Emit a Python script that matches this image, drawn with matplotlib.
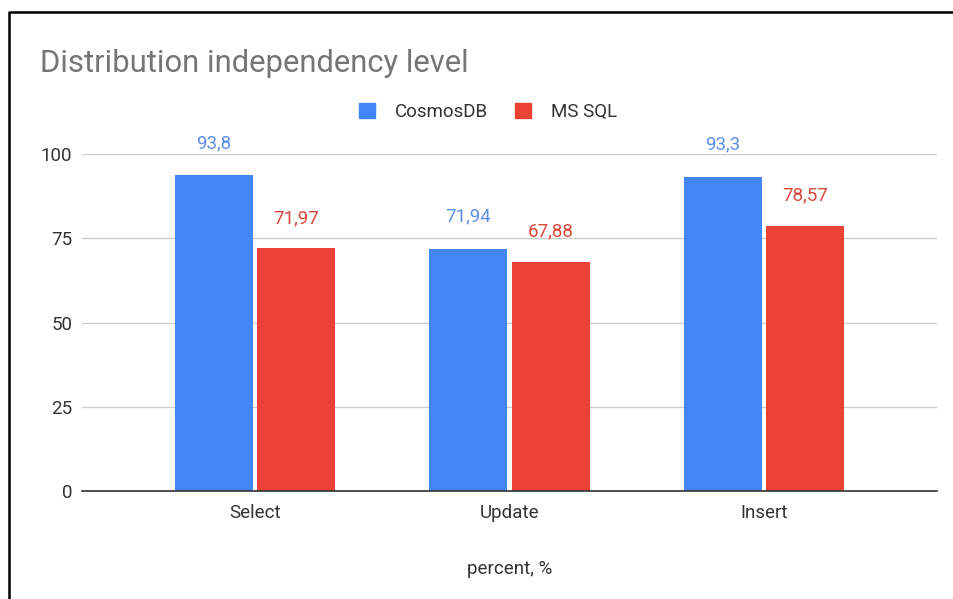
import numpy as np
import matplotlib
matplotlib.use('Agg')
import matplotlib.pyplot as plt
from matplotlib.lines import Line2D
from matplotlib.patches import Patch

plt.rcParams['font.family'] = ['Roboto', 'DejaVu Sans']

# data
categories = ['Select', 'Update', 'Insert']
cosmos = [93.8, 71.94, 93.3]
mssql = [71.97, 67.88, 78.57]
cosmos_labels = ['93,8', '71,94', '93,3']
mssql_labels = ['71,97', '67,88', '78,57']
yticks = [0, 25, 50, 75, 100]

blue = '#4285f4'
red = '#ea4335'

W, H = 954, 599
fig = plt.figure(figsize=(W / 100, H / 100), dpi=100)
ax = fig.add_axes([82 / W, 1 - 491 / H, (937 - 82) / W, (491 - 154) / H])

x = np.arange(len(categories))
bw = 0.306
gap = 0.009
ax.bar(x - bw / 2 - gap, cosmos, width=bw, color=blue, zorder=3)
ax.bar(x + bw / 2 + gap, mssql, width=bw, color=red, zorder=3)

# value labels above the bars
for i in range(len(categories)):
    ax.annotate(cosmos_labels[i], (x[i] - bw / 2 - gap, cosmos[i]), xytext=(0, 23),
                textcoords='offset points', ha='center', va='center',
                fontsize=13.5, color='#5f8ee8')
    ax.annotate(mssql_labels[i], (x[i] + bw / 2 + gap, mssql[i]), xytext=(0, 22),
                textcoords='offset points', ha='center', va='center',
                fontsize=13.5, color='#d9493c')

ax.set_xlim(-0.68, 2.68)
ax.set_ylim(0, 100)
ax.set_yticks(yticks)
ax.set_xticks(x)
ax.set_xticklabels(categories)
ax.tick_params(axis='both', length=0, labelsize=13.5, labelcolor='#333333')
ax.tick_params(axis='y', pad=7)
ax.tick_params(axis='x', pad=9)
ax.grid(axis='y', color='#cccccc', linewidth=1, zorder=0)
for s in ['top', 'right', 'left']:
    ax.spines[s].set_visible(False)
ax.spines['bottom'].set_color('#333333')
ax.spines['bottom'].set_linewidth(1.2)
ax.spines['bottom'].set_zorder(4)
ax.set_xlabel('percent, %', fontsize=13.5, color='#333333', labelpad=28)

fig.text(40 / W, 1 - 63 / H, 'Distribution independency level', fontsize=22.3,
         color='#757575', va='center', ha='left')

handles = [Patch(color=blue, label='CosmosDB'), Patch(color=red, label='MS SQL')]
fig.legend(handles=handles, loc='center', bbox_to_anchor=(488 / W, 1 - 112 / H), ncol=2,
           frameon=False, fontsize=13.5, handlelength=0.85, handleheight=0.85,
           columnspacing=1.4, handletextpad=1.1, labelcolor='#333333')

# screenshot border (top and left)
fig.add_artist(Line2D([9.5 / W, 9.5 / W, 1], [0, 1 - 12 / H, 1 - 12 / H],
                      transform=fig.transFigure, color='black', linewidth=1.8))

fig.savefig('out.png', dpi=100)
